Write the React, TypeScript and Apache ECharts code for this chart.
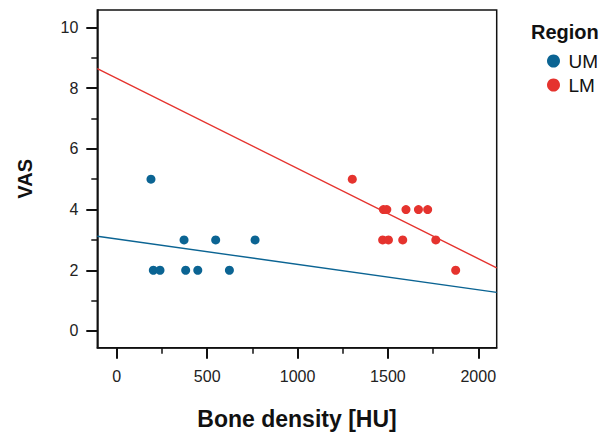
import React, { useEffect, useRef } from "react";
import * as echarts from "echarts";

const umDensity = [189, 372, 547, 765, 202, 239, 381, 448, 623];
const umVas = [5, 3, 3, 3, 2, 2, 2, 2, 2];
const lmDensity = [1303, 1475, 1494, 1600, 1669, 1720, 1471, 1503, 1582, 1765, 1875];
const lmVas = [5, 4, 4, 4, 4, 4, 3, 3, 3, 3, 2];
const umFit = [[-108, 3.12], [2102, 1.27]];
const lmFit = [[-108, 8.64], [2102, 2.08]];
const xMajor = [0, 500, 1000, 1500, 2000];
const xMinor = [250, 750, 1250, 1750];
const yMajor = [0, 2, 4, 6, 8, 10];
const yMinor = [1, 3, 5, 7, 9];

const BLUE = "#0b6493";
const RED = "#e5332e";
const FONT = "Liberation Sans, Arial, sans-serif";

export default function App() {
  const ref = useRef<HTMLDivElement>(null);
  useEffect(() => {
    const chart = echarts.init(ref.current!, null, { renderer: "svg" });
    const xMin = -108, xMax = 2102, yMin = -0.55, yMax = 10.57;
    const tickAxis = (values: number[], len: number, width: number, min: number, max: number, pos: string) => ({
      type: "value",
      position: pos,
      min,
      max,
      splitLine: { show: false },
      axisLine: { show: false, onZero: false },
      axisTick: { show: true, inside: false, length: len, customValues: values, lineStyle: { color: "#111", width } },
      axisLabel: { show: false },
    });
    chart.setOption({
      animation: false,
      textStyle: { fontFamily: FONT },
      title: {
        text: "Region",
        left: 526,
        top: 17,
        textStyle: { fontFamily: FONT, fontSize: 20, fontWeight: "bold", color: "#111" },
      },
      legend: {
        orient: "vertical",
        left: 542,
        top: 46,
        itemWidth: 20,
        itemHeight: 13,
        itemGap: 4,
        icon: "circle",
        data: ["UM", "LM"],
        textStyle: { fontFamily: FONT, fontSize: 19, color: "#111", lineHeight: 20 },
      },
      grid: {
        left: 97.3,
        right: 109.3,
        top: 10,
        bottom: 84.3,
        containLabel: false,
        outerBoundsMode: "none",
        show: true,
        borderColor: "#111",
        borderWidth: 1.5,
        backgroundColor: "transparent",
      },
      xAxis: [
        {
          type: "value",
          position: "bottom",
          min: xMin,
          max: xMax,
          name: "Bone density [HU]",
          nameLocation: "middle",
          nameGap: 60,
          nameTextStyle: { fontFamily: FONT, fontSize: 23, fontWeight: "bold", color: "#111" },
          splitLine: { show: false },
          axisLine: { show: true, onZero: false, lineStyle: { color: "#111", width: 1.5 } },
          axisTick: { show: false },
          axisLabel: {
            customValues: xMajor,
            margin: 21,
            fontSize: 16,
            color: "#222",
            fontFamily: FONT,
            formatter: (v: number) => String(v),
          },
        },
        tickAxis(xMajor, 11, 2, xMin, xMax, "bottom"),
        tickAxis(xMinor, 6, 1.5, xMin, xMax, "bottom"),
      ],
      yAxis: [
        {
          type: "value",
          position: "left",
          min: yMin,
          max: yMax,
          name: "VAS",
          nameLocation: "middle",
          nameGap: 62,
          nameTextStyle: { fontFamily: FONT, fontSize: 20, fontWeight: "bold", color: "#111" },
          splitLine: { show: false },
          axisLine: { show: true, onZero: false, lineStyle: { color: "#111", width: 1.5 } },
          axisTick: { show: false },
          axisLabel: {
            customValues: yMajor,
            margin: 19,
            fontSize: 16,
            color: "#222",
            fontFamily: FONT,
            formatter: (v: number) => String(v),
          },
        },
        tickAxis(yMajor, 11, 2, yMin, yMax, "left"),
        tickAxis(yMinor, 6, 1.5, yMin, yMax, "left"),
      ],
      series: [
        {
          name: "UM",
          type: "scatter",
          symbol: "circle",
          symbolSize: 9,
          itemStyle: { color: BLUE, opacity: 1 },
          data: umDensity.map((d, i) => [d, umVas[i]]),
          z: 3,
        },
        {
          name: "LM",
          type: "scatter",
          symbol: "circle",
          symbolSize: 9,
          itemStyle: { color: RED, opacity: 1 },
          data: lmDensity.map((d, i) => [d, lmVas[i]]),
          z: 3,
        },
        {
          name: "UM fit",
          type: "line",
          data: umFit,
          showSymbol: false,
          symbol: "none",
          lineStyle: { color: BLUE, width: 1.4 },
          z: 2,
        },
        {
          name: "LM fit",
          type: "line",
          data: lmFit,
          showSymbol: false,
          symbol: "none",
          lineStyle: { color: RED, width: 1.4 },
          z: 2,
        },
      ],
    });
    return () => chart.dispose();
  }, []);
  return <div ref={ref} style={{ width: 606, height: 432, position: "absolute", left: 0, top: 0 }} />;
}
